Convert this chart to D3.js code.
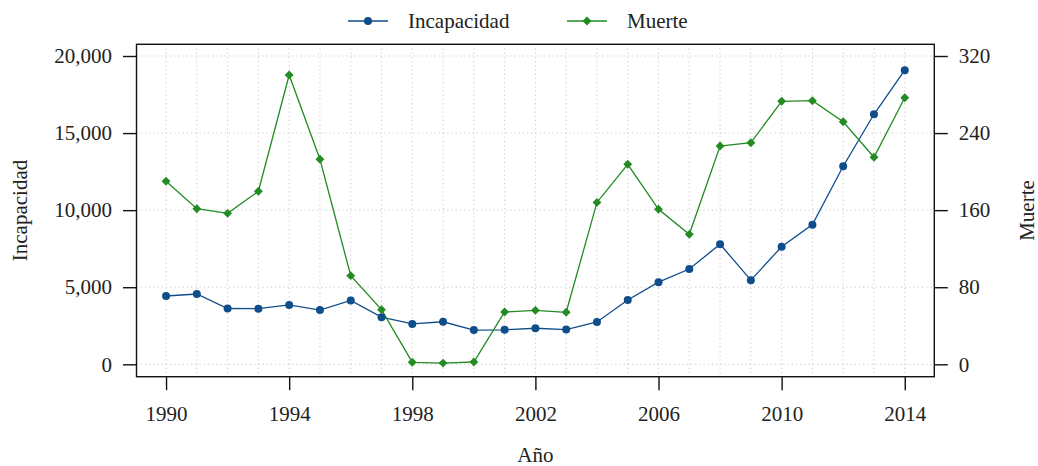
<!DOCTYPE html>
<html>
<head>
<meta charset="utf-8">
<script src="https://cdn.jsdelivr.net/npm/d3@7"></script>
<style>
  body { margin: 0; background: #fff; }
  svg text { font-family: "Liberation Serif", "DejaVu Serif", serif; fill: #222; }
  .grid line { stroke: #c8c8c8; stroke-width: 1; stroke-dasharray: 1.2,3; }
</style>
</head>
<body>
<svg id="chart" width="1038" height="466"></svg>
<script>
// data
const years = d3.range(1990, 2015);
const incapacidad = [4430, 4560, 3620, 3610, 3850, 3520, 4140, 3060, 2620, 2760, 2220, 2240, 2340, 2250,
    2745, 4170, 5330, 6180, 7790, 5460, 7630, 9060, 12850, 16220, 19080];
const muerte = [190, 161.5, 156.7, 179.6, 300.3, 212.8, 92, 56.7, 2.1, 1.3, 2.4, 54.3, 56, 54,
    168, 207.6, 160.9, 134.9, 226.6, 230, 273, 273.6, 251.8, 214.9, 276.7];
const xTicks = [1990, 1994, 1998, 2002, 2006, 2010, 2014];
const yLeftTicks = [0, 5000, 10000, 15000, 20000];
const yRightTicks = [0, 80, 160, 240, 320];

const blue = '#104E8B';
const green = '#228B22';

const margin = { top: 44.3, right: 103.7, bottom: 89.3, left: 136.5 };
const width = 1038 - margin.left - margin.right;
const height = 466 - margin.top - margin.bottom;

const svg = d3.select('#chart');
const g = svg.append('g').attr('transform', `translate(${margin.left},${margin.top})`);

const x = d3.scaleLinear().domain([1989.04, 2014.96]).range([0, width]);
const yL = d3.scaleLinear().domain([-804, 20759]).range([height, 0]);
const yR = d3.scaleLinear().domain([-804 * 0.016, 20759 * 0.016]).range([height, 0]);

// dotted grid
g.append('g').attr('class', 'grid')
    .selectAll('line.v').data(years).enter().append('line')
    .attr('x1', d => x(d)).attr('x2', d => x(d))
    .attr('y1', 0).attr('y2', height);
g.append('g').attr('class', 'grid')
    .selectAll('line.h').data(yLeftTicks).enter().append('line')
    .attr('x1', 0).attr('x2', width)
    .attr('y1', d => yL(d)).attr('y2', d => yL(d));

// axes
function styleAxis(sel) {
    sel.select('.domain').remove();
    sel.selectAll('.tick line').attr('stroke', '#111').attr('stroke-width', 1.4);
    sel.selectAll('.tick text').style('font-size', '21px').attr('fill', '#222');
}

g.append('g')
    .attr('transform', `translate(0,${height})`)
    .call(d3.axisBottom(x).tickValues(xTicks).tickFormat(d3.format('d')).tickSize(13.5).tickPadding(16))
    .call(styleAxis);

g.append('g')
    .call(d3.axisLeft(yL).tickValues(yLeftTicks).tickFormat(d3.format(',')).tickSize(13.5).tickPadding(11))
    .call(styleAxis);

g.append('g')
    .attr('transform', `translate(${width},0)`)
    .call(d3.axisRight(yR).tickValues(yRightTicks).tickSize(13.5).tickPadding(11))
    .call(styleAxis);

// box
g.append('rect')
    .attr('width', width).attr('height', height)
    .attr('fill', 'none').attr('stroke', '#111').attr('stroke-width', 1.4);

// lines
const lineL = d3.line().x((d, i) => x(years[i])).y(d => yL(d));
const lineR = d3.line().x((d, i) => x(years[i])).y(d => yR(d));

g.append('path').datum(incapacidad)
    .attr('fill', 'none').attr('stroke', blue).attr('stroke-width', 1.3).attr('d', lineL);
g.append('path').datum(muerte)
    .attr('fill', 'none').attr('stroke', green).attr('stroke-width', 1.3).attr('d', lineR);

const diamond = d3.symbol().type(d3.symbolDiamond2).size(50);

g.selectAll('circle.inc').data(incapacidad).enter().append('circle')
    .attr('cx', (d, i) => x(years[i])).attr('cy', d => yL(d))
    .attr('r', 4).attr('fill', blue);
g.selectAll('path.mue').data(muerte).enter().append('path')
    .attr('d', diamond)
    .attr('transform', (d, i) => `translate(${x(years[i])},${yR(d)})`)
    .attr('fill', green);

// axis titles
svg.append('text')
    .attr('x', margin.left + width / 2).attr('y', 462)
    .attr('text-anchor', 'middle').style('font-size', '21px').text('Año');
svg.append('text')
    .attr('transform', `translate(27,${margin.top + height / 2}) rotate(-90)`)
    .attr('text-anchor', 'middle').style('font-size', '21px').text('Incapacidad');
svg.append('text')
    .attr('transform', `translate(1034,${margin.top + height / 2}) rotate(-90)`)
    .attr('text-anchor', 'middle').style('font-size', '21px').text('Muerte');

// legend
const legend = [
    { name: 'Incapacidad', color: blue, x: 348, shape: 'circle' },
    { name: 'Muerte', color: green, x: 567, shape: 'diamond' }
];
const lg = svg.selectAll('g.legend').data(legend).enter().append('g')
    .attr('transform', d => `translate(${d.x},21)`);
lg.append('line').attr('x1', 0).attr('x2', 40)
    .attr('stroke', d => d.color).attr('stroke-width', 1.3);
lg.each(function (d) {
    const s = d3.select(this);
    if (d.shape === 'circle') {
        s.append('circle').attr('cx', 20).attr('r', 4).attr('fill', d.color);
    } else {
        s.append('path').attr('d', diamond).attr('transform', 'translate(20,0)').attr('fill', d.color);
    }
});
lg.append('text').attr('x', 60).attr('y', 7)
    .style('font-size', '21px').text(d => d.name);
</script>
</body>
</html>
